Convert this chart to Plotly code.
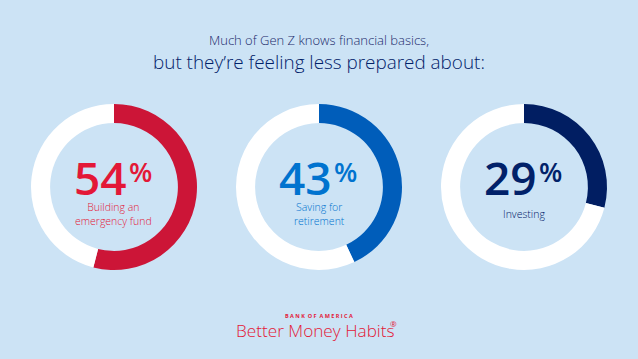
import plotly.graph_objects as go

W, H = 638, 359
categories = ["Building an<br>emergency fund", "Saving for<br>retirement", "Investing"]
values = [54, 43, 29]
colors = ["#CC1537", "#005DBA", "#011E62"]
text_colors = ["#E31837", "#0073CF", "#012169"]
centers_x = [114, 319, 524]
center_y = 187
R = 83
BG = "#CCE3F5"

fig = go.Figure()
for i, v in enumerate(values):
    cx = centers_x[i]
    fig.add_trace(go.Pie(
        values=[v, 100 - v],
        marker=dict(colors=[colors[i], "#FFFFFF"], line=dict(width=0)),
        hole=0.77, sort=False, direction="clockwise", rotation=0,
        textinfo="none", hoverinfo="skip", showlegend=False,
        domain=dict(x=[(cx - R) / W, (cx + R) / W],
                    y=[(H - center_y - R) / H, (H - center_y + R) / H]),
    ))
    fig.add_annotation(x=(cx + 15) / W, y=1 - 177 / H, xref="paper", yref="paper",
                       text=f"{v}", showarrow=False,
                       font=dict(family="Open Sans", size=46, color=text_colors[i], weight=600),
                       xanchor="right", yanchor="middle")
    fig.add_annotation(x=(cx + 13) / W, y=1 - 171 / H, xref="paper", yref="paper",
                       text="%", showarrow=False,
                       font=dict(family="Open Sans", size=27, color=text_colors[i], weight=600),
                       xanchor="left", yanchor="middle")
    two = "<br>" in categories[i]
    fig.add_annotation(x=cx / W, y=1 - (213.5 if two else 214) / H,
                       xref="paper", yref="paper",
                       text=categories[i], showarrow=False,
                       font=dict(family="Open Sans", size=10.5, color=text_colors[i], weight=300),
                       xanchor="center", yanchor="middle")

fig.add_annotation(x=319 / W, y=1 - 40 / H, xref="paper", yref="paper",
                   text="Much of Gen Z knows financial basics,", showarrow=False,
                   font=dict(family="Open Sans", size=13, color="#1B2A6B", weight=300),
                   xanchor="center", yanchor="middle")
fig.add_annotation(x=319 / W, y=1 - 62 / H, xref="paper", yref="paper",
                   text="but they’re feeling less prepared about:", showarrow=False,
                   font=dict(family="Open Sans", size=18.9, color="#012169", weight=300),
                   xanchor="center", yanchor="middle")
fig.add_annotation(x=319 / W, y=1 - 316 / H, xref="paper", yref="paper",
                   text="<b>B A N K  O F  A M E R I C A</b>", showarrow=False,
                   font=dict(family="Open Sans", size=5.5, color="#E31837"),
                   xanchor="center", yanchor="middle")
fig.add_annotation(x=315.5 / W, y=1 - 330 / H, xref="paper", yref="paper",
                   text="Better Money Habits", showarrow=False,
                   font=dict(family="Open Sans", size=17.2, color="#E31837", weight=300),
                   xanchor="center", yanchor="middle")
fig.add_annotation(x=388 / W, y=1 - 323 / H, xref="paper", yref="paper",
                   text="®", showarrow=False,
                   font=dict(family="Open Sans", size=8, color="#E31837"),
                   xanchor="left", yanchor="middle")

fig.update_layout(width=W, height=H, margin=dict(l=0, r=0, t=0, b=0),
                  paper_bgcolor=BG, plot_bgcolor=BG)
fig.write_html("out.html")
